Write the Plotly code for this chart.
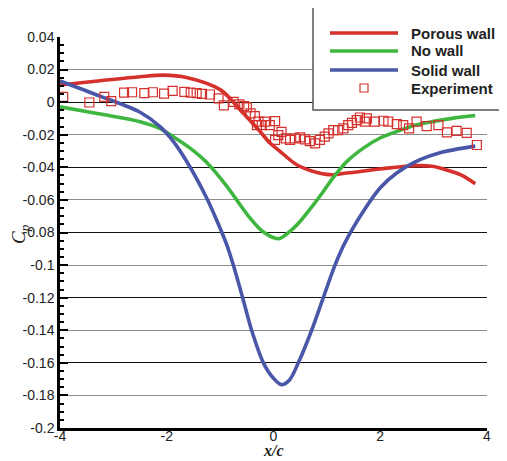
import plotly.graph_objects as go

# ---------------- data ----------------
porous_x = [-4.0, -3.25, -2.5, -2.06, -1.63, -1.0, -0.57, -0.28, -0.066, 0.122, 0.435, 0.747, 1.059, 1.372,
            1.996, 2.62, 3.0, 3.24, 3.5, 3.78]
porous_y = [0.0105, 0.0131, 0.0156, 0.0166, 0.0152, 0.0077, -0.0066, -0.0169, -0.0251, -0.0302, -0.0384,
            -0.0425, -0.0445, -0.0435, -0.0410, -0.0390, -0.0395, -0.0416, -0.0445, -0.050]

nowall_x = [-4.0, -3.25, -2.5, -2.126, -1.877, -1.564, -1.25, -0.877, -0.69, -0.44, -0.19, 0.1, 0.3, 0.497,
            0.747, 0.934, 1.122, 1.372, 1.684, 1.996, 2.308, 2.683, 3.0, 3.37, 3.78]
nowall_y = [-0.0029, -0.0073, -0.0120, -0.0162, -0.0212, -0.0282, -0.0370, -0.0515, -0.0600, -0.0711,
            -0.0797, -0.0838, -0.0795, -0.0732, -0.0630, -0.0548, -0.0462, -0.0365, -0.0282, -0.0220,
            -0.0180, -0.0139, -0.0118, -0.0098, -0.0082]

solid_x = [-4.0, -3.25, -2.5, -2.126, -1.877, -1.564, -1.25, -1.064, -0.877, -0.753, -0.578, -0.41, -0.19,
           0.0, 0.15, 0.3, 0.465, 0.715, 0.933, 1.152, 1.34, 1.684, 1.996, 2.308, 2.745, 3.12, 3.78]
solid_y = [0.0130, 0.0037, -0.0062, -0.0150, -0.0241, -0.0398, -0.0590, -0.0725, -0.0875, -0.1000,
           -0.1200, -0.1400, -0.1600, -0.1695, -0.1734, -0.1705, -0.1600, -0.1400, -0.1200, -0.1000,
           -0.0862, -0.0670, -0.0527, -0.0435, -0.0353, -0.0310, -0.0270]

exp_x = [-3.94, -3.45, -3.17, -3.04, -2.80, -2.65, -2.42, -2.26, -2.05, -1.89, -1.67, -1.55, -1.44, -1.34,
         -1.19, -1.03, -0.93, -0.75, -0.64, -0.55, -0.50, -0.43, -0.35, -0.31, -0.28, -0.22, -0.16, -0.07,
         0.03, 0.03, 0.09, 0.15, 0.23, 0.31, 0.40, 0.50, 0.59, 0.68, 0.78, 0.87, 0.96, 1.03, 1.12, 1.21,
         1.31, 1.40, 1.47, 1.56, 1.62, 1.71, 1.75, 1.90, 2.06, 2.15, 2.31, 2.43, 2.54, 2.68, 2.87, 3.09,
         3.25, 3.43, 3.62, 3.81]
exp_y = [0.0032, -0.0002, 0.0032, 0.0006, 0.0059, 0.0061, 0.0055, 0.0061, 0.0053, 0.0069, 0.0063, 0.0059,
         0.0055, 0.0051, 0.0047, 0.0023, -0.0020, 0.0002, -0.0014, -0.0024, -0.0032, -0.0069, -0.0086,
         -0.0141, -0.0120, -0.0141, -0.0120, -0.0141, -0.0116, -0.0232, -0.0202, -0.0182, -0.0222, -0.0232,
         -0.0222, -0.0216, -0.0228, -0.0239, -0.0253, -0.0232, -0.0212, -0.0191, -0.0171, -0.0171, -0.0161,
         -0.0141, -0.0127, -0.0110, -0.0094, -0.0120, -0.0100, -0.0120, -0.0114, -0.0120, -0.0135, -0.0141,
         -0.0161, -0.0120, -0.0147, -0.0141, -0.0185, -0.0176, -0.0188, -0.0263]

x_ticks = [-4, -2, 0, 2, 4]
x_ticktext = ["-4", "-2", "0", "2", "4"]
y_ticks = [0.04, 0.02, 0, -0.02, -0.04, -0.06, -0.08, -0.1, -0.12, -0.14, -0.16, -0.18, -0.2]
y_ticktext = ["0.04", "0.02", "0", "-0.02", "-0.04", "-0.06", "-0.08", "-0.1", "-0.12", "-0.14", "-0.16",
              "-0.18", "-0.2"]
y_dark_grid = [0.04, 0, -0.04, -0.08, -0.12, -0.16, -0.2]

series_names = ["Porous wall", "No wall", "Solid wall", "Experiment"]

# ---------------- style ----------------
RED = "#d5302c"
GREEN = "#3fb63f"
BLUE = "#4a57a8"
W, H = 507, 461
OFF = 8  # page body margin
ML, MT = 52, 29
PW, PH = 427, 391
MR = W - ML - PW
MB = H - MT - PH


def px(xs):
    return (xs - OFF - ML) / PW


def py(ys):
    return (MT + PH - (ys - OFF)) / PH


fig = go.Figure()
for xs, ys, col in [(porous_x, porous_y, RED), (nowall_x, nowall_y, GREEN), (solid_x, solid_y, BLUE)]:
    fig.add_trace(go.Scatter(x=xs, y=ys, mode="lines",
                             line=dict(color=col, width=3.6, shape="spline", smoothing=0.9),
                             showlegend=False, hoverinfo="skip"))
fig.add_trace(go.Scatter(x=exp_x, y=exp_y, mode="markers",
                         marker=dict(symbol="square-open", size=9, color=RED, line=dict(width=1.2)),
                         showlegend=False, hoverinfo="skip"))

tickfont = dict(family="Liberation Sans, Arial, sans-serif", size=14, color="#222")

fig.update_layout(
    width=W, height=H,
    margin=dict(l=ML, r=MR, t=MT, b=MB),
    paper_bgcolor="white", plot_bgcolor="white",
    showlegend=False,
    xaxis=dict(range=[-4, 4], tickmode="array", tickvals=x_ticks, ticktext=x_ticktext,
               ticks="", ticklen=0, ticklabelstandoff=-7, showgrid=False, zeroline=False,
               showline=True, linecolor="black", linewidth=2.5, tickfont=tickfont, automargin=False),
    yaxis=dict(range=[-0.2, 0.04], tickmode="array", tickvals=y_ticks, ticktext=y_ticktext,
               ticks="inside", ticklen=8, tickwidth=2, tickcolor="black",
               minor=dict(tickmode="linear", tick0=0, dtick=0.005, ticks="inside", ticklen=4,
                          tickwidth=1.5, tickcolor="black", showgrid=False),
               showgrid=True, gridcolor="#8c8c8c", gridwidth=1.2, zeroline=False,
               showline=True, linecolor="black", linewidth=2.5, tickfont=tickfont, automargin=False),
    yaxis2=dict(range=[-0.2, 0.04], overlaying="y", tickmode="array", tickvals=y_dark_grid,
                showticklabels=False, ticks="", showgrid=True, gridcolor="#111", gridwidth=1.2,
                zeroline=False, showline=False),
)
fig.add_trace(go.Scatter(x=[None], y=[None], yaxis="y2", showlegend=False, hoverinfo="skip"))

# axis titles
fig.add_annotation(text="<i>C<sub>p</sub></i>", xref="paper", yref="paper", x=px(20), y=py(234),
                   xanchor="center", yanchor="middle", showarrow=False, textangle=-90,
                   font=dict(family="Liberation Serif, Times New Roman, serif", size=19, color="#222"))
fig.add_annotation(text="<b><i>x/c</i></b>", xref="paper", yref="paper", x=px(273), y=py(450),
                   xanchor="center", yanchor="middle", showarrow=False, borderpad=0,
                   font=dict(family="Liberation Serif, Times New Roman, serif", size=16, color="#222"))

# legend box
fig.add_shape(type="rect", xref="paper", yref="paper", x0=px(313), x1=px(540), y0=py(110), y1=py(3),
              line=dict(color="#555", width=1.5), fillcolor="white", layer="above")
rows = [33, 51, 70, 88]
for col, r in zip([RED, GREEN, BLUE], rows[:3]):
    fig.add_shape(type="line", xref="paper", yref="paper", x0=px(330), x1=px(398), y0=py(r), y1=py(r),
                  line=dict(color=col, width=3.6), layer="above")
fig.add_shape(type="rect", xref="paper", yref="paper", x0=px(360), x1=px(368), y0=py(92), y1=py(84),
              line=dict(color=RED, width=1.2), fillcolor="rgba(0,0,0,0)", layer="above")
for name, r in zip(series_names, rows):
    fig.add_annotation(text="<b>%s</b>" % name, xref="paper", yref="paper", x=px(409), y=py(r),
                       xanchor="left", yanchor="middle", showarrow=False,
                       font=dict(family="Liberation Sans, Arial, sans-serif", size=15, color="#222"))

fig.write_html("out.html")
